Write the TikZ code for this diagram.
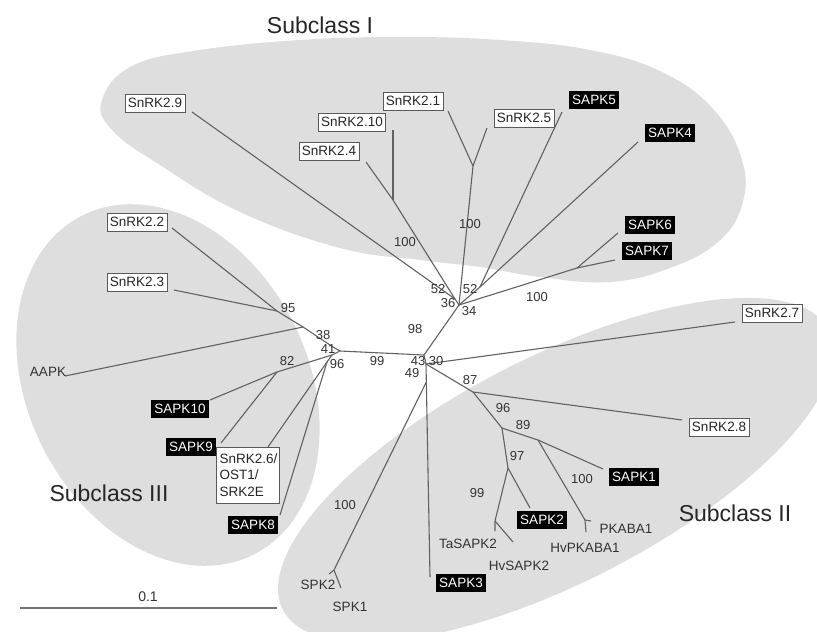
\documentclass[tikz,border=0pt]{standalone}
\usepackage{fontspec}
\setmainfont{Liberation Sans}
\begin{document}
\begin{tikzpicture}[x=1pt,y=-1pt,
  gfill/.style={fill=black!13},
  br/.style={draw=black!62, line width=1.1pt, line join=round},
  wbox/.style={draw=black!65, fill=white, line width=0.8pt, inner xsep=3pt, inner ysep=0pt, minimum height=18pt, font=\fontsize{13.5}{15}\selectfont, text=black!85},
  kbox/.style={fill=black, text=white, inner xsep=3pt, inner ysep=0pt, minimum height=18pt, font=\fontsize{13.5}{15}\selectfont},
  leaf/.style={inner sep=0pt, font=\fontsize{13.5}{15}\selectfont, text=black!80},
  bs/.style={inner sep=0pt, font=\fontsize{13}{15}\selectfont, text=black!80},
  sub/.style={inner sep=0pt, font=\fontsize{23}{26}\selectfont, text=black!85}]
\useasboundingbox (0,0) rectangle (817,632);
\clip (0,0) rectangle (817,632);
% ---------- gray clusters ----------
\fill[gfill] plot[smooth cycle, tension=0.7] coordinates {(102,100) (132,66) (200,50) (300,40) (400,37) (500,40) (590,50) (662,72) (714,110) (742,160) (742,205) (718,242) (670,268) (610,282) (540,277) (480,267) (420,260) (340,248) (240,212) (160,165) (112,130)};
\fill[gfill] plot[domain=0:360, samples=120, variable=\t] ({556+307*0.890*cos(\t)+113*0.455*sin(\t)}, {470-307*0.455*cos(\t)+113*0.890*sin(\t)}) -- cycle;
\fill[gfill] plot[domain=0:360, samples=120, variable=\t] ({168+190*0.454*cos(\t)-140*0.891*sin(\t)}, {385+190*0.891*cos(\t)+140*0.454*sin(\t)}) -- cycle;
% ---------- junctions ----------
\coordinate (C1) at (424,355);
\coordinate (C2) at (426,364);
\coordinate (C3) at (426.3,382);
\coordinate (U) at (459,305);
\coordinate (Ua) at (455,299);
\coordinate (Nb) at (393,200);
\coordinate (Nc) at (473,166);
\coordinate (Nd) at (480,287);
\coordinate (Ne) at (577,268);
\coordinate (L) at (340,351);
\coordinate (La) at (333,347);
\coordinate (Lb) at (332,355);
\coordinate (N38) at (303,327);
\coordinate (N95) at (277,311);
\coordinate (N82) at (277,372);
\coordinate (N96) at (327,362);
\coordinate (N87) at (473,392);
\coordinate (N96b) at (502,428);
\coordinate (N89) at (538,440);
\coordinate (Npk) at (585,520);
\coordinate (N97) at (508,468);
\coordinate (Nta) at (495,521);
\coordinate (Nspk) at (334,570);
% ---------- leaf ends ----------
\coordinate (e29) at (192,112);
\coordinate (e24) at (366,162);
\coordinate (e210) at (393,130);
\coordinate (e21) at (448,111);
\coordinate (e25) at (487,128);
\coordinate (e5) at (562,112);
\coordinate (e4) at (638,142);
\coordinate (e6) at (618,233);
\coordinate (e7) at (615,260);
\coordinate (e22) at (172,228);
\coordinate (e23) at (174,290);
\coordinate (eA) at (65,376);
\coordinate (e10) at (210,400);
\coordinate (e9) at (221,443);
\coordinate (e26) at (268,447);
\coordinate (e8) at (280,515);
\coordinate (e27) at (735,322);
\coordinate (e28) at (682,420);
\coordinate (e1) at (603,469);
\coordinate (epk) at (591,521);
\coordinate (ehvpk) at (586,532);
\coordinate (e2) at (530,508);
\coordinate (eta) at (495,531);
\coordinate (ehv) at (513,542);
\coordinate (e3) at (430,577);
\coordinate (es2) at (329,574);
\coordinate (es1) at (341,588);
\coordinate (sL) at (20,608);
\coordinate (sR) at (277,608);
% ---------- branches ----------
\draw[br] (L) -- (C1) -- (C2) -- (e3);
\draw[br] (C1) -- (U);
\draw[br] (U) -- (Ua) -- (e29);
\draw[br] (Ua) -- (Nb) -- (e24);
\draw[br] (Nb) -- (e210);
\draw[br] (U) -- (Nc) -- (e21);
\draw[br] (Nc) -- (e25);
\draw[br] (U) -- (Nd) -- (e5);
\draw[br] (Nd) -- (e4);
\draw[br] (U) -- (Ne) -- (e7);
\draw[br] (Ne) -- (e6);
\draw[br] (L) -- (La) -- (N38) -- (eA);
\draw[br] (N38) -- (N95) -- (e22);
\draw[br] (N95) -- (e23);
\draw[br] (L) -- (Lb) -- (N82) -- (e10);
\draw[br] (N82) -- (e9);
\draw[br] (Lb) -- (N96) -- (e26);
\draw[br] (N96) -- (e8);
\draw[br] (C2) -- (e27);
\draw[br] (C2) -- (N87) -- (e28);
\draw[br] (N87) -- (N96b) -- (N89) -- (e1);
\draw[br] (N89) -- (Npk) -- (epk);
\draw[br] (Npk) -- (ehvpk);
\draw[br] (N96b) -- (N97) -- (e2);
\draw[br] (N97) -- (Nta) -- (eta);
\draw[br] (Nta) -- (ehv);
\draw[br] (C3) -- (Nspk) -- (es2);
\draw[br] (Nspk) -- (es1);
\draw[draw=black!55, line width=1.3pt] (sL) -- (sR);
% ---------- leaf labels ----------
\node[wbox] (s29) at (155,103) {SnRK2.9};
\node[wbox] (s210) at (352,122) {SnRK2.10};
\node[wbox] (s24) at (329,151) {SnRK2.4};
\node[wbox] (s21) at (413,101) {SnRK2.1};
\node[wbox] (s25) at (524,118) {SnRK2.5};
\node[wbox] (s22) at (137,222) {SnRK2.2};
\node[wbox] (s23) at (137,282) {SnRK2.3};
\node[wbox] (s27) at (772,313) {SnRK2.7};
\node[wbox] (s28) at (719,427) {SnRK2.8};
\node[wbox, align=left, minimum width=63pt, minimum height=56pt, font=\fontsize{13.5}{16.5}\selectfont, text width=57pt] (s26) at (248,475) {SnRK2.6/\\OST1/\\SRK2E};
\node[kbox] (k5) at (594,100) {SAPK5};
\node[kbox] (k4) at (670,133) {SAPK4};
\node[kbox] (k6) at (650,225) {SAPK6};
\node[kbox] (k7) at (647,251) {SAPK7};
\node[kbox] (k10) at (180,409) {SAPK10};
\node[kbox] (k9) at (191,447) {SAPK9};
\node[kbox] (k8) at (253,525) {SAPK8};
\node[kbox] (k1) at (634,477) {SAPK1};
\node[kbox] (k2) at (542,520) {SAPK2};
\node[kbox] (k3) at (461,583) {SAPK3};
\node[leaf] (aapk) at (48,372) {AAPK};
\node[leaf] (spk2) at (318,585) {SPK2};
\node[leaf] (spk1) at (350,607) {SPK1};
\node[leaf] (ta) at (468,544) {TaSAPK2};
\node[leaf] (hv) at (519,566) {HvSAPK2};
\node[leaf] (pk) at (626,529) {PKABA1};
\node[leaf] (hvpk) at (585,548) {HvPKABA1};
% ---------- bootstrap values ----------
\node[bs] (b1) at (405,242) {100};
\node[bs] (b2) at (470,224) {100};
\node[bs] (b3) at (438,289) {52};
\node[bs] (b4) at (448,303) {36};
\node[bs] (b5) at (470,289) {52};
\node[bs] (b6) at (469,311) {34};
\node[bs] (b7) at (537,297) {100};
\node[bs] (b8) at (415,329) {98};
\node[bs] (b9) at (288,308) {95};
\node[bs] (b10) at (323,335) {38};
\node[bs] (b11) at (328,349) {41};
\node[bs] (b12) at (287,361) {82};
\node[bs] (b13) at (337,364) {96};
\node[bs] (b14) at (377,361) {99};
\node[bs] (b15) at (418,361) {43};
\node[bs] (b16) at (436,361) {30};
\node[bs] (b17) at (412,373) {49};
\node[bs] (b18) at (470,380) {87};
\node[bs] (b19) at (503,408) {96};
\node[bs] (b20) at (523,425) {89};
\node[bs] (b21) at (517,456) {97};
\node[bs] (b22) at (582,479) {100};
\node[bs] (b23) at (477,493) {99};
\node[bs] (b24) at (345,505) {100};
% ---------- class labels and scale ----------
\node[sub] (c1) at (320,25) {Subclass I};
\node[sub] (c2) at (735,513) {Subclass II};
\node[sub] (c3) at (109,493) {Subclass III};
\node[bs, font=\fontsize{14}{16}\selectfont] (scale) at (148,597) {0.1};
\end{tikzpicture}
\end{document}
